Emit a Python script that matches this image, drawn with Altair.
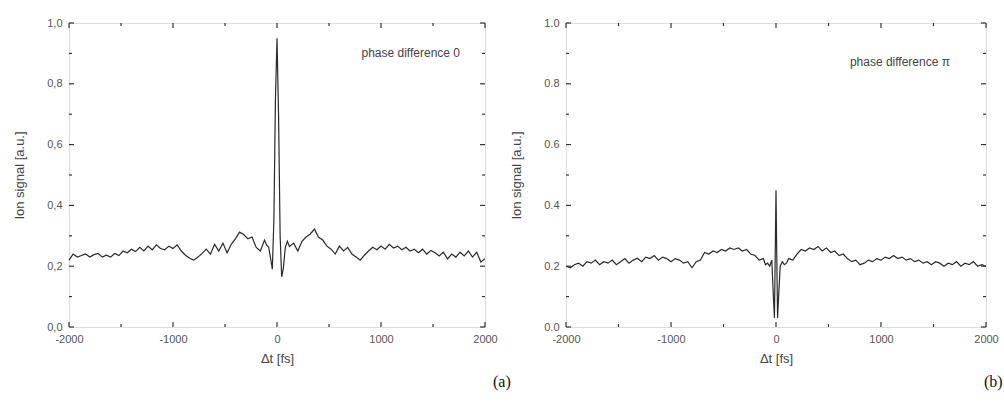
import altair as alt
import pandas as pd

# ---- panel (a): phase difference 0 ----
t_a = [-2000, -1960, -1920, -1880, -1840, -1800, -1760, -1720, -1680, -1640,
       -1600, -1560, -1520, -1480, -1440, -1400, -1360, -1320, -1280, -1240,
       -1200, -1160, -1120, -1080, -1040, -1000, -960, -920, -880, -840,
       -800, -760, -720, -680, -640, -600, -560, -520, -480, -440,
       -400, -360, -320, -280, -240, -200, -160, -120, -100, -80,
       -60, -45, -30, -15, 0, 15, 30, 45, 60, 80,
       100, 120, 160, 200, 240, 280, 320, 360, 400, 440,
       480, 520, 560, 600, 640, 680, 720, 760, 800, 840,
       880, 920, 960, 1000, 1040, 1080, 1120, 1160, 1200, 1240,
       1280, 1320, 1360, 1400, 1440, 1480, 1520, 1560, 1600, 1640,
       1680, 1720, 1760, 1800, 1840, 1880, 1920, 1960, 2000]
s_a = [0.220, 0.240, 0.230, 0.235, 0.240, 0.230, 0.238, 0.242, 0.230, 0.236,
       0.230, 0.242, 0.235, 0.250, 0.244, 0.256, 0.248, 0.262, 0.250, 0.266,
       0.254, 0.270, 0.258, 0.254, 0.266, 0.258, 0.270, 0.250, 0.236, 0.226,
       0.220, 0.230, 0.242, 0.256, 0.240, 0.272, 0.250, 0.276, 0.244, 0.272,
       0.290, 0.312, 0.304, 0.290, 0.296, 0.262, 0.250, 0.286, 0.270, 0.262,
       0.222, 0.190, 0.350, 0.750, 0.950, 0.700, 0.300, 0.165, 0.190, 0.262,
       0.282, 0.265, 0.276, 0.250, 0.282, 0.296, 0.306, 0.322, 0.295, 0.286,
       0.266, 0.256, 0.240, 0.266, 0.250, 0.262, 0.240, 0.230, 0.220, 0.236,
       0.250, 0.262, 0.254, 0.266, 0.256, 0.272, 0.260, 0.266, 0.254, 0.262,
       0.250, 0.256, 0.244, 0.256, 0.240, 0.252, 0.244, 0.234, 0.246, 0.224,
       0.240, 0.230, 0.246, 0.234, 0.250, 0.230, 0.246, 0.214, 0.225]

# ---- panel (b): phase difference pi ----
t_b = [-2000, -1960, -1920, -1880, -1840, -1800, -1760, -1720, -1680, -1640,
       -1600, -1560, -1520, -1480, -1440, -1400, -1360, -1320, -1280, -1240,
       -1200, -1160, -1120, -1080, -1040, -1000, -960, -920, -880, -840,
       -800, -760, -720, -680, -640, -600, -560, -520, -480, -440,
       -400, -360, -320, -280, -240, -200, -160, -120, -100, -80,
       -60, -40, -25, -15, -5, 0, 5, 15, 25, 40,
       60, 80, 100, 120, 160, 200, 240, 280, 320, 360,
       400, 440, 480, 520, 560, 600, 640, 680, 720, 760,
       800, 840, 880, 920, 960, 1000, 1040, 1080, 1120, 1160,
       1200, 1240, 1280, 1320, 1360, 1400, 1440, 1480, 1520, 1560,
       1600, 1640, 1680, 1720, 1760, 1800, 1840, 1880, 1920, 1960, 2000]
s_b = [0.200, 0.195, 0.205, 0.210, 0.200, 0.215, 0.210, 0.220, 0.205, 0.215,
       0.210, 0.220, 0.205, 0.215, 0.225, 0.210, 0.220, 0.226, 0.215, 0.230,
       0.225, 0.235, 0.220, 0.230, 0.225, 0.215, 0.225, 0.220, 0.210, 0.215,
       0.195, 0.215, 0.220, 0.245, 0.240, 0.250, 0.245, 0.255, 0.250, 0.260,
       0.255, 0.260, 0.250, 0.255, 0.240, 0.235, 0.220, 0.225, 0.205, 0.210,
       0.200, 0.220, 0.100, 0.030, 0.300, 0.450, 0.300, 0.030, 0.100, 0.200,
       0.215, 0.205, 0.210, 0.225, 0.220, 0.240, 0.255, 0.250, 0.260, 0.255,
       0.265, 0.250, 0.260, 0.245, 0.250, 0.235, 0.240, 0.225, 0.215, 0.220,
       0.205, 0.210, 0.220, 0.215, 0.225, 0.220, 0.230, 0.225, 0.235, 0.225,
       0.230, 0.220, 0.225, 0.215, 0.220, 0.210, 0.215, 0.205, 0.215, 0.210,
       0.200, 0.210, 0.205, 0.215, 0.200, 0.210, 0.205, 0.215, 0.200, 0.205, 0.200]

x_major = [-2000, -1000, 0, 1000, 2000]
x_minor = [-1500, -500, 500, 1500]
y_major = [0.0, 0.2, 0.4, 0.6, 0.8, 1.0]
y_minor = [0.1, 0.3, 0.5, 0.7, 0.9]

TXT = "#555555"
FONT = "Liberation Sans"


def panel(t, s, w, h, comma, note, note_dx, note_y, tag, tag_dx):
    xs = alt.Scale(domain=[-2000, 2000], nice=False, zero=False)
    ys = alt.Scale(domain=[0, 1], nice=False)
    if comma:
        ylab = "replace(format(datum.value, '.1f'), '.', ',')"
    else:
        ylab = "format(datum.value, '.1f')"
    ax_x = alt.Axis(
        values=x_major, labelExpr="'' + datum.value", ticks=False, domain=False, grid=False,
        title="\u0394t [fs]", titleFont=FONT, titleFontSize=13, titleFontWeight="normal",
        titleColor="#444", labelFont=FONT, labelFontSize=11, labelColor=TXT,
        labelPadding=6, titlePadding=8, labelFlush=False, labelOverlap=False)
    ax_y = alt.Axis(
        values=y_major, labelExpr=ylab, ticks=False, domain=False, grid=False,
        title="Ion signal [a.u.]", titleFont=FONT, titleFontSize=13, titleFontWeight="normal",
        titleColor="#444", labelFont=FONT, labelFontSize=11, labelColor=TXT,
        labelPadding=7, titlePadding=20, labelFlush=False, labelOverlap=False)
    df = pd.DataFrame({"t": t, "s": s})
    line = alt.Chart(df).mark_line(color="#2a2a2a", strokeWidth=1.2, interpolate="linear").encode(
        x=alt.X("t:Q", scale=xs, axis=ax_x),
        y=alt.Y("s:Q", scale=ys, axis=ax_y),
    )
    xt_major = pd.DataFrame({"t": x_major})
    xt_minor = pd.DataFrame({"t": x_minor})
    yt_major = pd.DataFrame({"s": y_major})
    yt_minor = pd.DataFrame({"s": y_minor})
    layers = [line]
    for d, L in ((xt_major, 5), (xt_minor, 3)):
        layers.append(alt.Chart(d).mark_rule(color="#333", strokeWidth=1.2).encode(
            x=alt.X("t:Q", scale=xs, axis=ax_x), y=alt.value(h), y2=alt.value(h - L)))
        layers.append(alt.Chart(d).mark_rule(color="#333", strokeWidth=1.2).encode(
            x=alt.X("t:Q", scale=xs, axis=ax_x), y=alt.value(0), y2=alt.value(L)))
    for d, L in ((yt_major, 5), (yt_minor, 3)):
        layers.append(alt.Chart(d).mark_rule(color="#333", strokeWidth=1.2).encode(
            y=alt.Y("s:Q", scale=ys, axis=ax_y), x=alt.value(0), x2=alt.value(L)))
        layers.append(alt.Chart(d).mark_rule(color="#333", strokeWidth=1.2).encode(
            y=alt.Y("s:Q", scale=ys, axis=ax_y), x=alt.value(w), x2=alt.value(w - L)))
    note_df = pd.DataFrame({"label": [note]})
    layers.append(alt.Chart(note_df).mark_text(
        align="right", baseline="middle", font=FONT, fontSize=12, color="#444").encode(
        text="label:N", x=alt.value(w - note_dx), y=alt.value(note_y)))
    tag_df = pd.DataFrame({"label": [tag]})
    layers.append(alt.Chart(tag_df).mark_text(
        align="left", baseline="alphabetic", font="Liberation Serif", fontSize=16, color="#111").encode(
        text="label:N", x=alt.value(w + tag_dx), y=alt.value(h + 60)))
    return alt.layer(*layers).properties(width=w, height=h)


left = panel(t_a, s_a, 416, 304, True, "phase difference 0", 25, 30, "(a)", 8)
right = panel(t_b, s_b, 420, 304, False, "phase difference  \u03c0", 36, 39, "(b)", -2)

chart = alt.hconcat(left, right, spacing=81, bounds="flush").properties(
    padding={"left": 13, "top": 16, "right": 0, "bottom": 0},
).configure_view(stroke="#333333", strokeWidth=1.5).configure(background="white")

chart.save("out.html", embed_options={"renderer": "svg", "actions": False})
